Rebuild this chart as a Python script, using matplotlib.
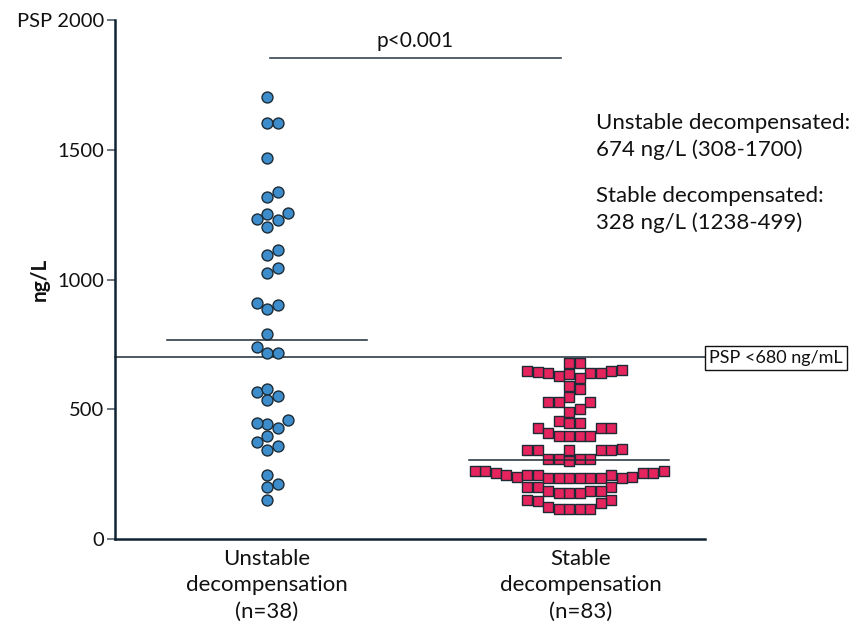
import matplotlib
matplotlib.use("Agg")
import matplotlib.pyplot as plt
import numpy as np

# ---------------- data ----------------
categories = ["Unstable\ndecompensation\n(n=38)", "Stable\ndecompensation\n(n=83)"]
unstable = [1705, 1602, 1602, 1470, 1337, 1320, 1258, 1230, 1233, 1253, 1202,
            1113, 1094, 1046, 1026, 909, 904, 888, 790, 742, 719, 719,
            569, 578, 538, 552, 461, 429, 443, 448, 399, 375, 358, 343,
            249, 213, 203, 153]
stable = [678, 678,
          639, 649, 639, 629, 652, 620, 649, 642, 644, 637,
          592, 579, 548, 528, 528, 528, 502, 489, 457, 448, 449, 429, 429, 429,
          411, 398, 398, 398, 398,
          344, 344, 344, 344, 344, 347,
          308, 308, 310, 308, 302,
          241, 264, 257, 248, 248, 237, 248, 257, 264, 235, 248, 235, 241, 235,
          237, 264, 237, 257, 237,
          203, 187, 203, 187, 203, 187, 177, 177, 177,
          151, 141, 151, 149, 126, 116, 116, 116, 116]
center_lines = [768, 305]
threshold = 702
threshold_label = "PSP <680 ng/mL"
p_text = "p<0.001"
p_level = 1854
yticks = [0, 500, 1000, 1500, 2000]
ytick_labels = ["0", "500", "1000", "1500", "PSP 2000"]
y_label = "ng/L"
notes = ["Unstable decompensated:", "674 ng/L (308-1700)",
         "Stable decompensated:", "328 ng/L (1238-499)"]

FONT = ["Lato", "DejaVu Sans"]
plt.rcParams["font.family"] = FONT

W, H = 852, 627
fig = plt.figure(figsize=(W / 100, H / 100), dpi=100)
ax_l, ax_r, ax_b, ax_t = 115, 705, 539.3, 20
ax = fig.add_axes([ax_l / W, 1 - ax_b / H, (ax_r - ax_l) / W, (ax_b - ax_t) / H])

px_per_unit = 302.0
x0_px = 267.0
ax.set_xlim((ax_l - x0_px) / px_per_unit, (ax_r - x0_px) / px_per_unit)
ax.set_ylim(0, 2000)
y_px_per_val = (ax_b - ax_t) / 2000.0

slot_w = 10.5 / px_per_unit          # column spacing in data units
min_dy = 10.3 / y_px_per_val         # vertical clearance in data units


def swarm(values):
    order = np.argsort(values, kind="stable")
    placed = {}
    offs = np.zeros(len(values))
    cand = [0]
    for j in range(1, 40):
        cand += [j, -j]
    for i in order:
        v = values[i]
        k = 0
        for sl in cand:
            if all(abs(v - w) >= min_dy for w in placed.get(sl, [])):
                k = sl
                break
        placed.setdefault(k, []).append(v)
        offs[i] = k * slot_w
    return offs


edge = "#1c2b35"
u = np.array(unstable, float)
s = np.array(stable, float)
ax.scatter(0 + swarm(u), u, s=62, marker="o", color="#3d8dcc",
           edgecolor=edge, linewidth=1.0, zorder=3, clip_on=False)
ax.scatter(1 + swarm(s), s, s=58, marker="s", color="#e5245d",
           edgecolor=edge, linewidth=1.0, zorder=3, clip_on=False)

# median lines
for xc, yv in zip([0, 1], center_lines):
    ax.plot([xc - 0.33, xc + 0.33], [yv, yv], color="#1c2b35", lw=1.1, zorder=4)

# threshold line
ax.axhline(threshold, color="#1c2b35", lw=1.1, zorder=2, clip_on=False)
fig.text(709 / W, 1 - 358 / H, threshold_label,
         ha="left", va="center", fontsize=13, color="#111111",
         bbox=dict(boxstyle="square,pad=0.22", fc="white", ec="#111111", lw=1.0))

# p value bar
ax.plot([0.01, 0.975], [p_level, p_level], color="#3a4650", lw=1.2)
ax.text(0.49, p_level + 25, p_text, ha="center", va="bottom", fontsize=15, color="#111111")

# notes
for i, t in enumerate(notes):
    ypx = [123, 150, 196, 223][i]
    fig.text(596 / W, 1 - ypx / H, t, ha="left", va="center", fontsize=16, color="#111111")

# axes styling
for sp in ["top", "right"]:
    ax.spines[sp].set_visible(False)
for sp in ["left", "bottom"]:
    ax.spines[sp].set_color("#0f2330")
    ax.spines[sp].set_linewidth(1.8)
ax.set_yticks(yticks)
ax.set_yticklabels(ytick_labels, fontsize=14.5, color="#111111")
ax.tick_params(axis="y", length=6, width=1.2, color="#55606a", pad=2)
ax.set_xticks([0, 1.04])
ax.set_xticklabels(categories, fontsize=16, color="#111111", linespacing=1.4)
ax.tick_params(axis="x", length=0, pad=7)
fig.text(40 / W, 1 - 279 / H, y_label, rotation=90, ha="center", va="center",
         fontsize=15, fontweight="bold", color="#111111")

fig.savefig("out.png", dpi=100)
